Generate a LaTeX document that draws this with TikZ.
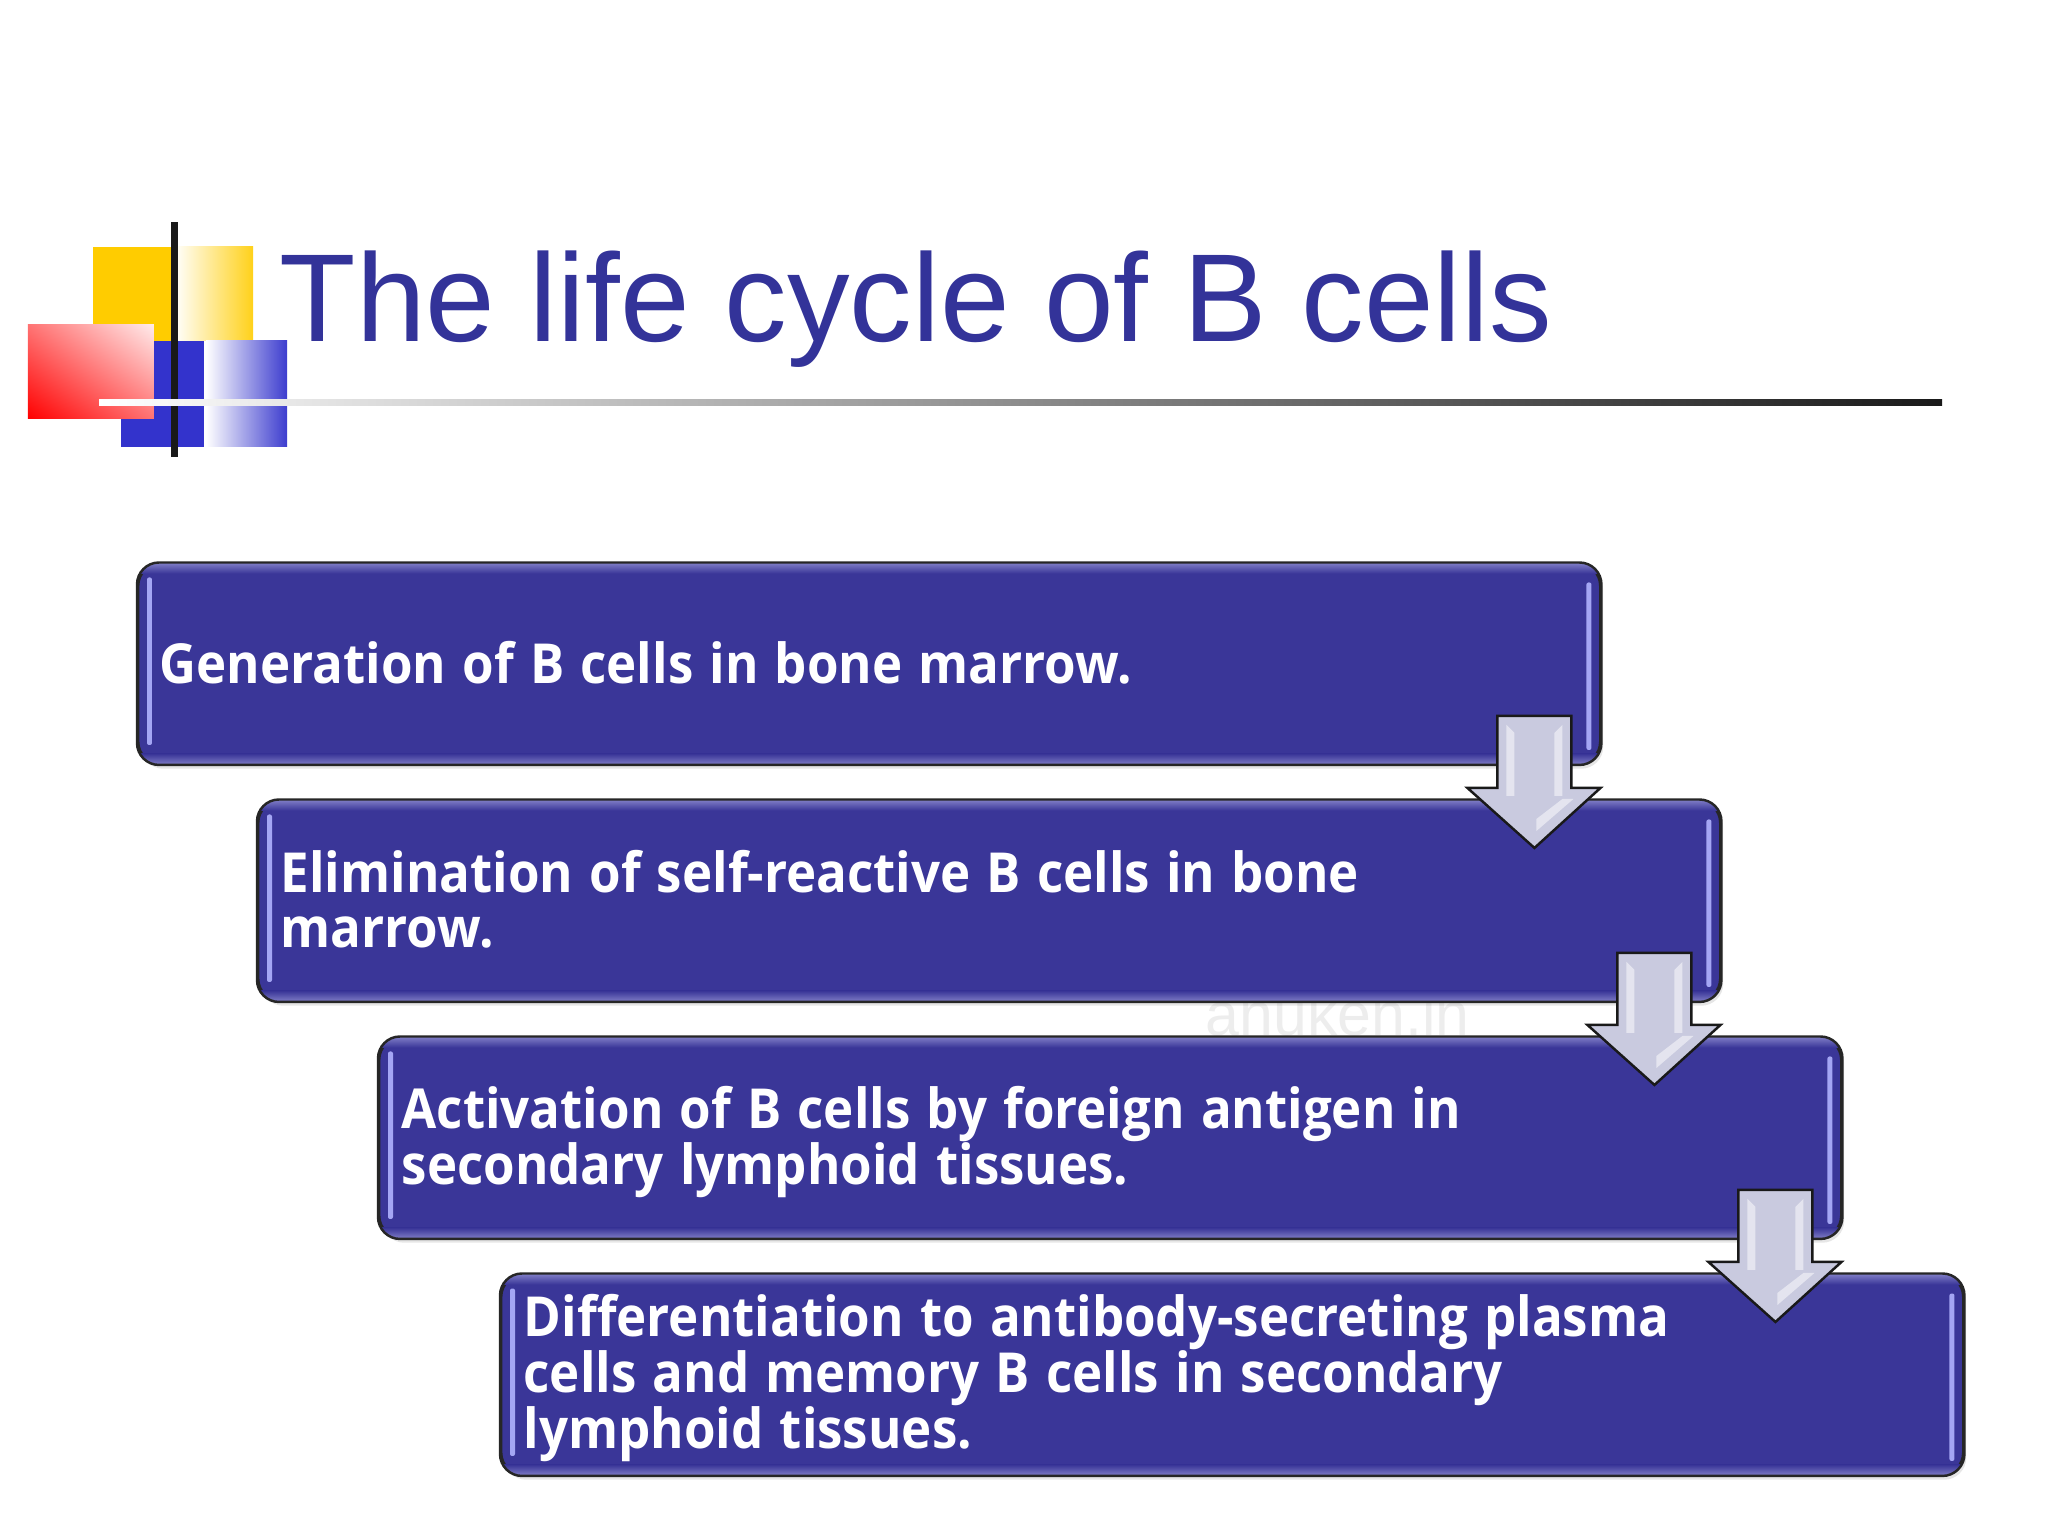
\documentclass[tikz,border=0pt]{standalone}
\usepackage{fontspec}
\setmainfont{Liberation Sans}
\newfontfamily\boxfont{Open Sans}[FakeStretch=0.925]
\newcommand\stepspace{\spaceskip 4.6pt\relax}
\usetikzlibrary{shadows,calc,shadings}
\definecolor{titleblue}{HTML}{333399}
\definecolor{boxblue}{HTML}{3A3698}
\definecolor{rimblue}{HTML}{8280C8}
\definecolor{barblue}{HTML}{A4A6F4}
\definecolor{artyellow}{HTML}{FFCC00}
\definecolor{artblue}{HTML}{3333CC}
\definecolor{arrowgray}{HTML}{C9CADF}
\tikzset{
  stepbox/.style={draw=black!85, line width=0.7pt, fill=boxblue, rounded corners=0.22cm,
    minimum width=14.62cm, minimum height=2.0cm, anchor=north west,
    drop shadow={shadow xshift=0.03cm, shadow yshift=-0.05cm, opacity=0.2}},
  steptext/.style={text=white, font=\boxfont\fontsize{15.7}{15.9}\selectfont\bfseries,
    align=left, anchor=west, inner sep=0pt, text width=12.6cm, execute at begin node=\stepspace},
  downarrow/.style={draw=black!90, line width=0.7pt, fill=arrowgray, line join=miter}
}
\begin{document}
\begin{tikzpicture}
  \useasboundingbox (0,0) rectangle (20.48,-15.36);
  \def\yrow{-2.37};
  % art beside the title
  \fill[artyellow] (0.93,-2.47) rectangle (1.74,-3.41);
  \shade[left color=white, right color=artyellow!90!white] (1.74,-2.47) rectangle (2.53,-3.41);
  \fill[artblue] (1.21,-3.41) rectangle (2.04,-4.47);
  \shade[left color=white, right color=artblue!95!white] (2.06,-3.41) rectangle (2.87,-4.47);
  \shade[shading=bilinear interpolation, lower left=red, upper right=red!8!white, upper left=red!55!white, lower right=red!55!white] (0.28,-3.25) rectangle (1.54,-4.19);
  \fill[black!90] (1.71,-2.22) rectangle (1.78,-4.57);
  \shade[left color=white, middle color=black!50, right color=black!90] (0.99,-4.00) rectangle (19.42,-4.06);
  % title
  \node[anchor=base west, inner sep=0pt, text=titleblue, font=\fontsize{35.6}{40}\selectfont] (title) at (2.79,-3.42) {The life cycle of B cells};
  \node[anchor=base west, inner sep=0pt, text=black!7, font=\fontsize{17.3}{20}\selectfont] (mark) at (12.05,-10.35) {anuken.in};
  % boxes
  \foreach \name/\n/\xpos in {boxa/0/1.37, boxb/1/2.57, boxc/2/3.78, boxd/3/5.00} {
      \node[stepbox] (\name) at (\xpos, -5.625+\n*\yrow) {};
      \begin{scope}
        \clip[rounded corners=0.22cm] (\name.north west) rectangle (\name.south east);
        \shade[top color=rimblue, bottom color=boxblue] (\name.north west) rectangle ($(\name.north east)+(0,-0.11)$);
        \shade[bottom color=rimblue, top color=boxblue] (\name.south west) rectangle ($(\name.south east)+(0,0.11)$);
      \end{scope}
      \draw[draw=black!85, line width=0.7pt, rounded corners=0.22cm] (\name.north west) rectangle (\name.south east);
      \fill[barblue, rounded corners=0.02cm] ($(\name.north west)+(0.10,-0.15)$) rectangle ($(\name.south west)+(0.15,0.20)$);
      \fill[barblue, rounded corners=0.02cm] ($(\name.north east)+(-0.10,-0.20)$) rectangle ($(\name.south east)+(-0.15,0.15)$);
  }
  % texts
  \node[steptext] (texta) at ($(boxa.west)+(0.22,0.01)$) {Generation of B cells in bone marrow.};
  \node[steptext] (textb) at ($(boxb.west)+(0.23,0.015)$) {Elimination of self-reactive B cells in bone\\marrow.};
  \node[steptext] (textc) at ($(boxc.west)+(0.23,-0.04)$) {Activation of B cells by foreign antigen in\\secondary lymphoid tissues.};
  \node[steptext] (textd) at ($(boxd.west)+(0.23,-0.035)$) {Differentiation to antibody-secreting plasma\\cells and memory B cells in secondary\\lymphoid tissues.};
  % arrows
  \foreach \name in {boxa,boxb,boxc} {
      \begin{scope}[shift={(\name.south east)}, xshift=0.01cm]
        \draw[downarrow] (-1.05,0.49) -- (-0.31,0.49) -- (-0.31,-0.23) -- (-0.02,-0.23) -- (-0.68,-0.83) -- (-1.35,-0.23) -- (-1.05,-0.23) -- cycle;
        \fill[white, opacity=0.5] (-0.96,0.40) -- (-0.88,0.32) -- (-0.88,-0.31) -- (-0.96,-0.31) -- cycle;
        \fill[white, opacity=0.5] (-0.40,0.40) -- (-0.48,0.32) -- (-0.48,-0.31) -- (-0.40,-0.31) -- cycle;
        \fill[white, opacity=0.5] (-0.29,-0.34) -- (-0.40,-0.34) -- (-0.66,-0.54) -- (-0.66,-0.66) -- cycle;
      \end{scope}
  }
\end{tikzpicture}
\end{document}
